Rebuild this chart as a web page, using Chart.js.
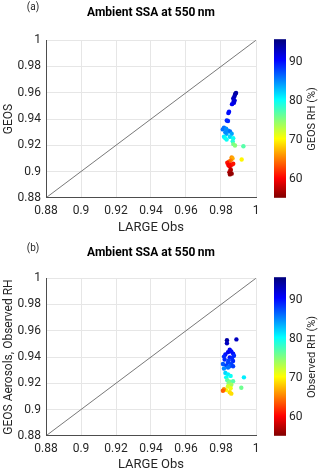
<!DOCTYPE html>
<html><head><meta charset="utf-8">
<script src="https://cdn.jsdelivr.net/npm/chart.js@4"></script>
<style>
html,body{margin:0;padding:0;background:#fff;}
#wrap{width:320px;height:476px;}
.panel{position:relative;width:320px;height:238px;}
</style></head><body>
<div id="wrap">
<div class="panel"><canvas id="ca"></canvas></div>
<div class="panel"><canvas id="cb"></canvas></div>
</div>
<script>
// ---- data ----
const AXIS_TICKS = [0.88, 0.9, 0.92, 0.94, 0.96, 0.98, 1];
const RH_TICKS = [60, 70, 80, 90];
const RH_MIN = 55.2, RH_MAX = 95.5;
const DIAG = [0.88, 1];

// Panel (a): LARGE obs SSA vs GEOS SSA, colored by GEOS RH
const a_obs  = [0.9886,0.9882,0.9880,0.9876,0.9870,0.9878,0.9872,0.9874,0.9863,
                0.9846,0.9842,0.9833,0.9840,
                0.9817,0.9810,0.9829,0.9842,0.9851,0.9861,0.9832,0.9825,
                0.9817,0.9825,0.9851,0.9870,0.9832,0.9867,
                0.9870,0.9880,0.9928,
                0.9918,
                0.9861,0.9866,0.9855,0.9846,
                0.9836,0.9861,0.9848,0.9870,0.9842,
                0.9855,0.9855,0.9848,0.9861,0.9851];
const a_geos = [0.9598,0.9592,0.9584,0.9569,0.9557,0.9540,0.9533,0.9523,0.9513,
                0.9456,0.9445,0.9389,0.9385,
                0.9333,0.9321,0.9326,0.9310,0.9306,0.9288,0.9288,0.9299,
                0.9265,0.9254,0.9265,0.9254,0.9243,0.9231,
                0.9209,0.9198,0.9193,
                0.9092,
                0.9108,0.9100,0.9085,0.9074,
                0.9067,0.9052,0.9041,0.9059,0.9050,
                0.9018,0.9007,0.8995,0.8984,0.8978];
const a_rh   = [94,94,94,93,93,92,92,92,91,
                90,90,89,89,
                86,86,85,85,86,84,84,85,
                81,80,82,80,80,79,
                76,75,77,
                70,
                66,67,65,64,
                61,60,60,61,60,
                58,57,57,56,56];

// Panel (b): LARGE obs SSA vs GEOS aerosols at observed RH, colored by observed RH
const b_obs  = [0.9834,0.9834,0.9888,
                0.9850,0.9859,0.9840,0.9869,0.9825,0.9874,0.9817,0.9850,0.9863,0.9821,
                0.9844,0.9869,0.9811,0.9840,0.9859,0.9830,0.9850,0.9869,
                0.9817,0.9840,
                0.9825,0.9840,0.9830,0.9855,0.9931,
                0.9836,0.9850,0.9869,0.9844,0.9859,0.9916,
                0.9840,0.9855,0.9830,0.9850,0.9859,
                0.9817,0.9811];
const b_geos = [0.9528,0.9505,0.9534,
                0.9455,0.9442,0.9437,0.9426,0.9419,0.9410,0.9403,0.9397,0.9392,0.9381,
                0.9374,0.9369,0.9347,0.9358,0.9347,0.9336,0.9329,0.9329,
                0.9313,0.9320,
                0.9279,0.9268,0.9245,0.9256,0.9245,
                0.9223,0.9211,0.9216,0.9200,0.9189,0.9166,
                0.9177,0.9162,0.9148,0.9132,0.9121,
                0.9155,0.9143];
const b_rh   = [94,93,93,
                91,90,91,90,90,89,89,90,89,89,
                88,89,87,88,88,88,87,88,
                85,86,
                82,81,80,80,81,
                77,76,77,75,74,76,
                72,71,70,69,69,
                66,64];

// ---- colormap (reversed jet) ----
function jet(s){
  const c = v => Math.max(0, Math.min(1, v));
  return [c(1.5-Math.abs(4*s-3)), c(1.5-Math.abs(4*s-2)), c(1.5-Math.abs(4*s-1))];
}
function rhColor(v){
  const t = (v - RH_MIN)/(RH_MAX - RH_MIN);
  const [r,g,b] = jet(1 - t);
  return `rgb(${Math.round(r*255)},${Math.round(g*255)},${Math.round(b*255)})`;
}

const FONT = 'Roboto, "Liberation Sans", sans-serif';
const TXT = '#262626';

const decor = {
  id: 'decor',
  afterDraw(chart, args, opts){
    const ctx = chart.ctx, ca = chart.chartArea, cb = chart.scales.cb;
    ctx.save();
    // colorbar gradient
    const x0 = cb.left + 18, w = 12;
    const g = ctx.createLinearGradient(0, ca.bottom, 0, ca.top);
    for (let i = 0; i <= 40; i++){
      const t = i/40;
      g.addColorStop(t, rhColor(RH_MIN + t*(RH_MAX-RH_MIN)));
    }
    ctx.fillStyle = g;
    ctx.fillRect(x0, ca.top - 1, w, ca.bottom - ca.top + 1);
    // colorbar label
    ctx.fillStyle = TXT;
    ctx.font = '11px ' + FONT;
    ctx.textAlign = 'center';
    ctx.textBaseline = 'middle';
    ctx.translate(opts.cbLabelX, (ca.top + ca.bottom)/2);
    ctx.rotate(-Math.PI/2);
    ctx.fillText(opts.cbLabel, 0, 0);
    ctx.restore();
    // panel letter and title
    ctx.save();
    ctx.fillStyle = TXT;
    ctx.font = '10px ' + FONT;
    ctx.textAlign = 'center';
    ctx.textBaseline = 'middle';
    ctx.fillText(opts.letter, 33, opts.letterY);
    ctx.fillStyle = '#000';
    ctx.font = 'bold 12px ' + FONT;
    ctx.fillText(opts.title, (ca.left + ca.right)/2, opts.titleY);
    ctx.restore();
  }
};

function makeChart(id, obs, geos, rh, cfg){
  const pts = obs.map((x, i) => ({x: x, y: geos[i]}));
  return new Chart(document.getElementById(id), {
    type: 'scatter',
    data: {
      datasets: [
        { data: pts, pointRadius: 2.2, pointBorderWidth: 0,
          pointBackgroundColor: rh.map(rhColor) },
        { data: DIAG.map(v => ({x: v, y: v})), showLine: true, pointRadius: 0,
          borderColor: '#555', borderWidth: 0.8, fill: false }
      ]
    },
    options: {
      responsive: true, maintainAspectRatio: false, animation: false,
      events: [],
      layout: { autoPadding: false, padding: { top: cfg.top, left: 0, right: 0, bottom: 0 } },
      plugins: { legend: { display: false }, tooltip: { enabled: false },
                 decor: cfg.decor },
      scales: {
        x: {
          type: 'linear', min: 0.88, max: 1,
          afterBuildTicks: s => { s.ticks = AXIS_TICKS.map(v => ({value: v})); },
          afterFit: s => { s.height = cfg.xh; },
          ticks: { color: TXT, font: { family: FONT, size: 12 }, padding: 6,
                   maxRotation: 0, autoSkip: false,
                   callback: v => String(Number(v.toFixed(2))) },
          grid: { color: '#e6e6e6', drawTicks: false },
          border: { color: '#4d4d4d', width: 1 },
          title: { display: true, text: 'LARGE Obs', color: TXT,
                   font: { family: FONT, size: 13 }, padding: { top: 0, bottom: cfg.xtp } }
        },
        y: {
          type: 'linear', min: 0.88, max: 1,
          afterBuildTicks: s => { s.ticks = AXIS_TICKS.map(v => ({value: v})); },
          afterFit: s => { s.width = 46; },
          ticks: { color: TXT, font: { family: FONT, size: 12 }, padding: 5,
                   autoSkip: false,
                   callback: v => String(Number(v.toFixed(2))) },
          grid: { color: '#e6e6e6', drawTicks: false },
          border: { color: '#4d4d4d', width: 1 },
          title: { display: true, text: cfg.ylabel, color: TXT,
                   font: { family: FONT, size: 12 }, padding: { top: 2, bottom: 0 } }
        },
        cb: {
          type: 'linear', position: 'right', axis: 'y', min: RH_MIN, max: RH_MAX,
          afterBuildTicks: s => { s.ticks = RH_TICKS.map(v => ({value: v})); },
          afterFit: s => { s.width = 64; },
          ticks: { color: TXT, font: { family: FONT, size: 12 }, padding: 33 },
          grid: { display: false, drawTicks: false },
          border: { display: false }
        }
      }
    },
    plugins: [decor]
  });
}

makeChart('ca', a_obs, a_geos, a_rh, {
  top: 21, xh: 39, xtp: 1, ylabel: 'GEOS',
  decor: { letter: '(a)', letterY: 7, title: 'Ambient SSA at 550\u2009nm', titleY: 13,
           cbLabel: 'GEOS RH (%)', cbLabelX: 312 }
});
makeChart('cb', b_obs, b_geos, b_rh, {
  top: 24, xh: 37, xtp: 0, ylabel: 'GEOS Aerosols, Observed RH',
  decor: { letter: '(b)', letterY: 10, title: 'Ambient SSA at 550\u2009nm', titleY: 15,
           cbLabel: 'Observed RH (%)', cbLabelX: 312 }
});
</script>
</body></html>
